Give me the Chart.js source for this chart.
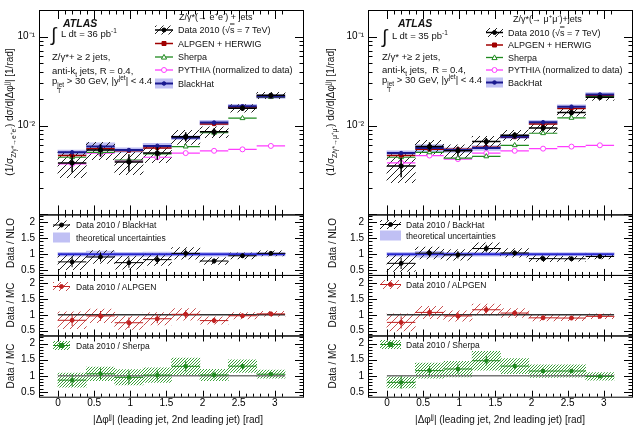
<!DOCTYPE html>
<html>
<head>
<meta charset="utf-8">
<script src="https://cdn.jsdelivr.net/npm/chart.js@4.4.0/dist/chart.umd.min.js"></script>
<style>
  body { margin: 0; background: #fff; width: 635px; height: 428px; position: relative; overflow: hidden;
         font-family: "Liberation Sans", Arial, sans-serif; color: #111; }
  canvas { position: absolute; top: 0; }
  .t { position: absolute; white-space: nowrap; font-size: 9px; line-height: 1; transform: translateY(-50%); }
  .info { font-size: 9.5px; }
  .c { position: absolute; white-space: nowrap; font-size: 10px; line-height: 1; transform: translate(-50%, -50%); }
  .rot { position: absolute; white-space: nowrap; font-size: 10px; line-height: 1; transform: translate(-50%, -50%) rotate(-90deg); }
  sup, sub { font-size: 68%; line-height: 0; }
  .ss { display: inline-flex; flex-direction: column; font-size: 68%; line-height: 1; vertical-align: -0.4em; }
  .ol { text-decoration: overline; }
</style>
</head>
<body>
<canvas id="left" width="306" height="428" style="left:0px"></canvas>
<canvas id="right" width="306" height="428" style="left:329px"></canvas>

<!-- left column text -->
<div class="t" style="left:63px;top:23px;font-size:10.5px;font-weight:bold;font-style:italic">ATLAS</div>
<div class="t" style="left:51px;top:34px;font-size:19px">∫</div>
<div class="t info" style="left:61px;top:34px">L dt = 36 pb<sup>-1</sup></div>
<div class="t info" style="left:52px;top:57px">Z/γ*+ ≥ 2 jets,</div>
<div class="t info" style="left:52px;top:71px">anti-k<sub>t</sub> jets, R = 0.4,</div>
<div class="t info" style="left:52px;top:85px">p<span class="ss"><span>jet</span><span>T</span></span> &gt; 30 GeV, |y<sup>jet</sup>| &lt; 4.4</div>
<div class="t" style="left:179px;top:17px">Z/γ*(→ e<sup>+</sup>e<sup>-</sup>) + jets</div>
<div class="t" style="left:178px;top:30px">Data 2010 (√<span class="ol">s</span> = 7 TeV)</div>
<div class="t" style="left:178px;top:43.5px">ALPGEN + HERWIG</div>
<div class="t" style="left:178px;top:57px">Sherpa</div>
<div class="t" style="left:178px;top:70px">PYTHIA (normalized to data)</div>
<div class="t" style="left:178px;top:83.5px">BlackHat</div>
<div class="t" style="left:76px;top:225px;font-size:8.5px">Data 2010 / BlackHat</div>
<div class="t" style="left:76px;top:237.5px;font-size:8.5px">theoretical uncertainties</div>
<div class="t" style="left:76px;top:286.5px;font-size:8.5px">Data 2010 / ALPGEN</div>
<div class="t" style="left:76px;top:345.5px;font-size:8.5px">Data 2010 / Sherpa</div>
<div class="rot" style="left:10px;top:112px">(1/σ<sub>Z/γ*→e<sup>+</sup>e<sup>-</sup></sub>) dσ/d|Δφ<sup>jj</sup>| [1/rad]</div>
<div class="rot" style="left:11px;top:243px">Data / NLO</div>
<div class="rot" style="left:11px;top:305px">Data / MC</div>
<div class="rot" style="left:11px;top:366px">Data / MC</div>
<div class="c" style="left:178px;top:420px">|Δφ<sup>jj</sup>| (leading jet, 2nd leading jet) [rad]</div>

<!-- right column text -->
<div class="t" style="left:398px;top:23px;font-size:10.5px;font-weight:bold;font-style:italic">ATLAS</div>
<div class="t" style="left:382px;top:36px;font-size:19px">∫</div>
<div class="t info" style="left:392px;top:36px">L dt = 35 pb<sup>-1</sup></div>
<div class="t info" style="left:382px;top:57px">Z/γ* +≥ 2 jets,</div>
<div class="t info" style="left:382px;top:70px">anti-k<sub>t</sub> jets,&nbsp; R = 0.4,</div>
<div class="t info" style="left:382px;top:84px">p<span class="ss"><span>jet</span><span>T</span></span> &gt; 30 GeV, |y<sup>jet</sup>| &lt; 4.4</div>
<div class="t" style="left:513px;top:19px">Z/γ*(→ μ<sup>+</sup>μ<sup>-</sup>)+jets</div>
<div class="t" style="left:508px;top:32.5px">Data 2010 (√<span class="ol">s</span> = 7 TeV)</div>
<div class="t" style="left:508px;top:45px">ALPGEN + HERWIG</div>
<div class="t" style="left:508px;top:57.5px">Sherpa</div>
<div class="t" style="left:508px;top:70px">PYTHIA (normalized to data)</div>
<div class="t" style="left:508px;top:82.5px">BackHat</div>
<div class="t" style="left:406px;top:224.5px;font-size:8.5px">Data 2010 / BackHat</div>
<div class="t" style="left:406px;top:235.5px;font-size:8.5px">theoretical uncertainties</div>
<div class="t" style="left:406px;top:284.5px;font-size:8.5px">Data 2010 / ALPGEN</div>
<div class="t" style="left:406px;top:344.5px;font-size:8.5px">Data 2010 / Sherpa</div>
<div class="rot" style="left:331px;top:112px">(1/σ<sub>Z/γ*→μ<sup>+</sup>μ<sup>-</sup></sub>) dσ/d|Δφ<sup>jj</sup>| [1/rad]</div>
<div class="rot" style="left:333px;top:243px">Data / NLO</div>
<div class="rot" style="left:333px;top:305px">Data / MC</div>
<div class="rot" style="left:333px;top:366px">Data / MC</div>
<div class="c" style="left:500px;top:420px">|Δφ<sup>jj</sup>| (leading jet, 2nd leading jet) [rad]</div>

<script>
// bins in |dphi| (rad)
const binLo = [0, 0.3927, 0.7854, 1.1781, 1.5708, 1.9635, 2.3562, 2.7489];
const binHi = [0.3927, 0.7854, 1.1781, 1.5708, 1.9635, 2.3562, 2.7489, 3.1416];

// tick labels
const xTicks = [0, 0.5, 1, 1.5, 2, 2.5, 3];
const xTickLabels = ['0', '0.5', '1', '1.5', '2', '2.5', '3'];
const logTicks = [0.01, 0.1];
const logTickLabels = ['10⁻²', '10⁻¹'];
const ratioTicks = [0.5, 1, 1.5, 2];
const ratioTickLabels = ['0.5', '1', '1.5', '2'];

// Z -> ee channel
const eeData     = [0.0038, 0.0053, 0.0039, 0.0049, 0.0075, 0.0085, 0.0157, 0.0219];
const eeSys      = [0.32, 0.22, 0.28, 0.22, 0.18, 0.14, 0.10, 0.08];
const eeStat     = [0.22, 0.16, 0.22, 0.16, 0.12, 0.10, 0.07, 0.05];
const eeBlackHat = [0.0050, 0.0058, 0.0053, 0.0059, 0.0073, 0.0108, 0.0165, 0.0213];
const eeBhUnc    = [0.06, 0.10, 0.06, 0.07, 0.05, 0.06, 0.05, 0.05];
const eeAlpgen   = [0.0046, 0.0055, 0.0052, 0.0056, 0.0074, 0.0104, 0.0162, 0.0213];
const eeSherpa   = [0.0044, 0.0050, 0.0041, 0.0048, 0.0058, 0.0083, 0.0121, 0.0209];
const eeShUnc    = [0.25, 0.20, 0.25, 0.22, 0.20, 0.17, 0.15, 0.12];
const eePythia   = [0.0037, 0.0049, 0.0040, 0.0044, 0.0049, 0.0052, 0.0054, 0.0059];

// Z -> mumu channel
const mmData     = [0.0035, 0.0058, 0.0052, 0.0066, 0.0078, 0.0094, 0.0140, 0.0208];
const mmSys      = [0.35, 0.18, 0.17, 0.15, 0.13, 0.11, 0.09, 0.08];
const mmStat     = [0.25, 0.12, 0.12, 0.10, 0.08, 0.07, 0.06, 0.05];
const mmBlackHat = [0.0049, 0.0056, 0.0053, 0.0056, 0.0075, 0.0109, 0.0163, 0.0224];
const mmBhUnc    = [0.06, 0.09, 0.06, 0.06, 0.05, 0.05, 0.05, 0.05];
const mmAlpgen   = [0.0046, 0.0054, 0.0054, 0.0057, 0.0074, 0.0104, 0.0156, 0.0219];
const mmSherpa   = [0.0044, 0.0050, 0.0043, 0.0045, 0.0060, 0.0082, 0.0122, 0.0212];
const mmShUnc    = [0.22, 0.20, 0.20, 0.20, 0.18, 0.17, 0.17, 0.12];
const mmPythia   = [0.0038, 0.0046, 0.0042, 0.0049, 0.0052, 0.0055, 0.0058, 0.0060];

const FONT = '"Liberation Sans", Arial, sans-serif';
const C_ALP = '#a00000', C_SH = '#1f8a1f', C_PY = '#ff3cff', C_BH = '#1a1a90';
const BAND = 'rgba(140,140,235,0.55)';

function hatch(color, gap, lw) {
  const c = document.createElement('canvas');
  c.width = gap; c.height = gap;
  const g = c.getContext('2d');
  g.strokeStyle = color; g.lineWidth = lw;
  g.beginPath();
  g.moveTo(0, gap); g.lineTo(gap, 0);
  g.moveTo(-1, 1); g.lineTo(1, -1);
  g.moveTo(gap - 1, gap + 1); g.lineTo(gap + 1, gap - 1);
  g.stroke();
  return g.createPattern(c, 'repeat');
}
const hatchK = hatch('#222', 7, 1);
const hatchR = hatch('#c85050', 7, 1);
const hatchG = hatch('#3aa03a', 3, 1);

const centers = binLo.map((l, i) => (l + binHi[i]) / 2);

// floating box per bin
function box(lo, hi) {
  return centers.map((c, i) => ({ x: c, y: [lo[i], hi[i]] }));
}
// horizontal line over each bin, marker at the centre
function segs(vals) {
  const p = [];
  vals.forEach((v, i) => p.push({ x: binLo[i], y: v }, { x: centers[i], y: v }, { x: binHi[i], y: v }, { x: centers[i], y: null }));
  return p;
}
// bin-wide bar + vertical stat error + marker
function errPts(vals, rel) {
  const p = [];
  vals.forEach((v, i) => p.push(
    { x: binLo[i], y: v }, { x: centers[i], y: v }, { x: binHi[i], y: v }, { x: centers[i], y: null },
    { x: centers[i], y: v * (1 - rel[i]) }, { x: centers[i], y: v * (1 + rel[i]) }, { x: centers[i], y: null }));
  return p;
}
const scaled = (vals, rel, s) => vals.map((v, i) => v * (1 + s * rel[i]));
const divide = (a, b) => a.map((v, i) => v / b[i]);

function barSet(axis, data, color, order) {
  return { type: 'bar', yAxisID: axis, data, backgroundColor: color, borderWidth: 0,
           barPercentage: 1, categoryPercentage: 1, grouped: false, order };
}
function lineSet(axis, data, color, width, style, radius, fill, order, step) {
  return { type: 'line', yAxisID: axis, data, borderColor: color, borderWidth: width, tension: 0,
           spanGaps: false, pointStyle: style, order,
           pointRadius: c => (c.dataIndex % step === 1 ? radius : 0),
           pointBackgroundColor: fill, pointBorderColor: color, pointBorderWidth: 1 };
}
function refLine(axis, color, width) {
  return { type: 'line', yAxisID: axis, data: [{ x: 0, y: 1 }, { x: 3.1416, y: 1 }],
           borderColor: color, borderWidth: width, pointRadius: 0, order: 10 };
}

// box frames and inward tick marks for every panel
const frames = {
  id: 'frames',
  afterDatasetsDraw(chart) {
    const ctx = chart.ctx, xs = chart.scales.x, a = chart.chartArea;
    ctx.save();
    ctx.strokeStyle = '#000';
    ctx.lineWidth = 1;
    ['y', 'r1', 'r2', 'r3'].forEach(id => {
      const s = chart.scales[id];
      const main = id === 'y';
      ctx.strokeRect(a.left + 0.5, s.top + 0.5, a.right - a.left - 1, s.bottom - s.top);
      ctx.beginPath();
      // x ticks, top and bottom
      for (let k = 0; k <= 31; k++) {
        const v = k / 10;
        const px = Math.round(xs.getPixelForValue(v)) + 0.5;
        const len = (k % 5 === 0) ? (main ? 9 : 6) : (main ? 4.5 : 3);
        ctx.moveTo(px, s.bottom); ctx.lineTo(px, s.bottom - len);
        ctx.moveTo(px, s.top); ctx.lineTo(px, s.top + len);
      }
      // y ticks, left and right
      const marks = [];
      if (main) {
        [0.001, 0.01, 0.1].forEach(d => { for (let m = 1; m <= 9; m++) marks.push([d * m, m === 1]); });
      } else {
        for (let k = 4; k <= 22; k++) marks.push([k / 10, k % 5 === 0]);
      }
      marks.forEach(([v, major]) => {
        if (v < s.min || v > s.max) return;
        const py = Math.round(s.getPixelForValue(v)) + 0.5;
        const len = major ? 9 : 4.5;
        ctx.moveTo(a.left, py); ctx.lineTo(a.left + len, py);
        ctx.moveTo(a.right, py); ctx.lineTo(a.right - len, py);
      });
      ctx.stroke();
    });
    ctx.restore();
  }
};

function marker(ctx, style, x, y, r, stroke, fill) {
  ctx.beginPath();
  if (style === 'circle') ctx.arc(x, y, r, 0, Math.PI * 2);
  else if (style === 'rect') ctx.rect(x - r, y - r, 2 * r, 2 * r);
  else { ctx.moveTo(x, y - r); ctx.lineTo(x + r, y + r * 0.8); ctx.lineTo(x - r, y + r * 0.8); ctx.closePath(); }
  ctx.fillStyle = fill; ctx.fill();
  ctx.strokeStyle = stroke; ctx.lineWidth = 1; ctx.stroke();
}
function drawSym(ctx, k, x1, x2, y) {
  const xc = (x1 + x2) / 2;
  const rect = (fill, h) => { ctx.fillStyle = fill; ctx.fillRect(x1, y - h, x2 - x1, 2 * h); };
  const hl = (col, w) => { ctx.strokeStyle = col; ctx.lineWidth = w; ctx.beginPath(); ctx.moveTo(x1, y); ctx.lineTo(x2, y); ctx.stroke(); };
  if (k === 'data') { rect(hatchK, 4.5); hl('#000', 1.5); marker(ctx, 'circle', xc, y, 2, '#000', '#000'); }
  if (k === 'alp') { hl(C_ALP, 1.5); marker(ctx, 'rect', xc, y, 2, C_ALP, C_ALP); }
  if (k === 'sh') { hl(C_SH, 1.3); marker(ctx, 'triangle', xc, y, 2.6, C_SH, '#fff'); }
  if (k === 'py') { hl(C_PY, 1.3); marker(ctx, 'circle', xc, y, 2.5, C_PY, '#fff'); }
  if (k === 'bh') { rect(BAND, 5); hl(C_BH, 2); marker(ctx, 'circle', xc, y, 1.8, C_BH, C_BH); }
  if (k === 'rd') { rect(hatchK, 4.5); hl('#000', 1); marker(ctx, 'circle', xc, y, 2, '#000', '#000'); }
  if (k === 'th') { rect(BAND, 5); }
  if (k === 'ra') { rect(hatchR, 4.5); hl('#c02020', 1); marker(ctx, 'circle', xc, y, 2, '#c02020', '#c02020'); }
  if (k === 'rs') { rect(hatchG, 4.5); hl(C_SH, 1); marker(ctx, 'rect', xc, y, 2, C_SH, C_SH); }
}
const legendSym = {
  id: 'legendSym',
  afterDraw(chart, args, opts) {
    const ctx = chart.ctx;
    ctx.save();
    opts.items.forEach(it => drawSym(ctx, it.k, it.x1 - opts.dx, it.x2 - opts.dx, it.y));
    ctx.restore();
  }
};

function ratioAxis(weight, stackWeight) {
  return {
    type: 'linear', min: 0.35, max: 2.25, position: 'left', stack: 'col', stackWeight, weight,
    grid: { display: false, drawTicks: false }, border: { display: false },
    ticks: { padding: 4, autoSkip: false, color: '#000', font: { family: FONT, size: 10 },
             callback: (v, i) => ratioTickLabels[i] },
    afterBuildTicks: s => { s.ticks = ratioTicks.map(v => ({ value: v })); },
    afterFit: s => { s.width = 39; }
  };
}

function buildColumn(canvasId, dx, ch, leg) {
  const rBH = divide(ch.data, ch.bh);
  const rAlp = divide(ch.data, ch.alp);
  const rSh = divide(ch.data, ch.sh);
  const ones = ch.data.map(() => 1);
  const datasets = [
    // main panel
    barSet('y', box(scaled(ch.bh, ch.bhUnc, -1), scaled(ch.bh, ch.bhUnc, 1)), BAND, 20),
    barSet('y', box(scaled(ch.data, ch.sys, -1), scaled(ch.data, ch.sys, 1)), hatchK, 19),
    lineSet('y', segs(ch.py), C_PY, 1.2, 'circle', 2.5, '#fff', 8, 4),
    lineSet('y', segs(ch.sh), C_SH, 1.2, 'triangle', 2.8, '#fff', 7, 4),
    lineSet('y', segs(ch.alp), C_ALP, 1.5, 'rect', 2.2, C_ALP, 6, 4),
    lineSet('y', segs(ch.bh), C_BH, 2, 'circle', 1.8, C_BH, 5, 4),
    lineSet('y', errPts(ch.data, ch.stat), '#000', 1.5, 'circle', 2.2, '#000', 1, 7),
    // data / NLO
    barSet('r1', box(scaled(ones, ch.bhUnc, -1), scaled(ones, ch.bhUnc, 1)), BAND, 20),
    barSet('r1', box(scaled(rBH, ch.sys, -1), scaled(rBH, ch.sys, 1)), hatchK, 19),
    refLine('r1', '#2828d0', 2),
    lineSet('r1', errPts(rBH, ch.stat), '#000', 1, 'circle', 2, '#000', 1, 7),
    // data / ALPGEN
    barSet('r2', box(scaled(rAlp, ch.sys, -1), scaled(rAlp, ch.sys, 1)), hatchR, 19),
    refLine('r2', '#333', 1.5),
    lineSet('r2', errPts(rAlp, ch.stat), '#c02020', 1, 'circle', 2, '#c02020', 1, 7),
    // data / Sherpa
    barSet('r3', box(scaled(rSh, ch.shUnc, -1), scaled(rSh, ch.shUnc, 1)), hatchG, 19),
    refLine('r3', '#777', 1.5),
    lineSet('r3', errPts(rSh, ch.stat), C_SH, 1, 'rect', 2, C_SH, 1, 7)
  ];
  return new Chart(document.getElementById(canvasId), {
    type: 'bar',
    data: { datasets },
    plugins: [frames, legendSym],
    options: {
      responsive: false, animation: false,
      layout: { padding: { top: 7, right: 2, bottom: 1.3, left: 0 } },
      plugins: { legend: { display: false }, tooltip: { enabled: false }, legendSym: { dx, items: leg } },
      scales: {
        x: {
          type: 'linear', min: 0, max: 3.1416,
          grid: { display: false, drawTicks: false }, border: { display: false },
          ticks: { padding: 1, autoSkip: false, color: '#000', font: { family: FONT, size: 10 }, includeBounds: false,
                   callback: (v, i) => xTickLabels[i] },
          afterBuildTicks: s => { s.ticks = xTicks.map(v => ({ value: v })); },
          afterFit: s => { s.height = 30; }
        },
        y: {
          type: 'logarithmic', min: 0.001, max: 0.2, position: 'left', stack: 'col', stackWeight: 206, weight: 4,
          grid: { display: false, drawTicks: false }, border: { display: false },
          ticks: { padding: 4, autoSkip: false, color: '#000', font: { family: FONT, size: 10 },
                   callback: (v, i) => logTickLabels[i] },
          afterBuildTicks: s => { s.ticks = logTicks.map(v => ({ value: v })); },
          afterFit: s => { s.width = 39; }
        },
        r1: ratioAxis(3, 61),
        r2: ratioAxis(2, 61),
        r3: ratioAxis(1, 61.7)
      }
    }
  });
}

const legL = [
  { k: 'data', x1: 155, x2: 173, y: 30 }, { k: 'alp', x1: 155, x2: 173, y: 43.5 },
  { k: 'sh', x1: 155, x2: 173, y: 57 }, { k: 'py', x1: 155, x2: 173, y: 70 },
  { k: 'bh', x1: 155, x2: 173, y: 83.5 },
  { k: 'rd', x1: 53, x2: 70, y: 225 }, { k: 'th', x1: 53, x2: 70, y: 237.5 },
  { k: 'ra', x1: 53, x2: 70, y: 286.5 }, { k: 'rs', x1: 53, x2: 70, y: 345.5 }
];
const legR = [
  { k: 'data', x1: 486, x2: 503, y: 32.5 }, { k: 'alp', x1: 486, x2: 503, y: 45 },
  { k: 'sh', x1: 486, x2: 503, y: 57.5 }, { k: 'py', x1: 486, x2: 503, y: 70 },
  { k: 'bh', x1: 486, x2: 503, y: 82.5 },
  { k: 'rd', x1: 380, x2: 401, y: 224.5 }, { k: 'th', x1: 380, x2: 401, y: 235.5 },
  { k: 'ra', x1: 380, x2: 401, y: 284.5 }, { k: 'rs', x1: 380, x2: 401, y: 344.5 }
];

buildColumn('left', 0, {
  data: eeData, sys: eeSys, stat: eeStat, bh: eeBlackHat, bhUnc: eeBhUnc,
  alp: eeAlpgen, sh: eeSherpa, shUnc: eeShUnc, py: eePythia
}, legL);
buildColumn('right', 329, {
  data: mmData, sys: mmSys, stat: mmStat, bh: mmBlackHat, bhUnc: mmBhUnc,
  alp: mmAlpgen, sh: mmSherpa, shUnc: mmShUnc, py: mmPythia
}, legR);
</script>
</body>
</html>
